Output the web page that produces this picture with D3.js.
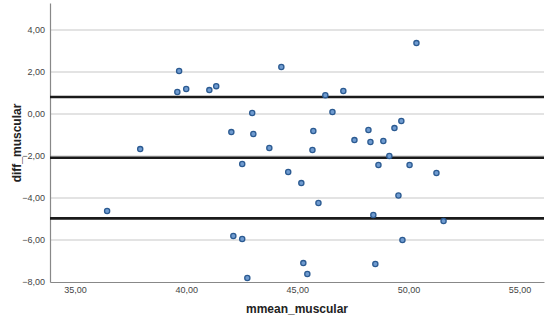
<!DOCTYPE html>
<html>
<head>
<meta charset="utf-8">
<script src="https://cdn.jsdelivr.net/npm/d3@7"></script>
<style>
  body { margin: 0; background: #fff; }
  text { font-family: Arial, "Liberation Sans", sans-serif; }
</style>
</head>
<body>
<div class="chart"></div>
<script>
// mean of both measurements vs difference
const mmeanMuscular = [36.44, 37.93, 39.68, 39.60, 40.00, 41.04, 41.35, 44.28, 46.26, 47.07,
    42.97, 46.58, 42.03, 43.02, 43.74, 45.72, 45.68, 47.57, 48.20, 48.29,
    48.87, 49.14, 49.37, 49.68, 50.36, 50.05, 51.26, 49.55, 51.58, 49.73,
    42.52, 44.59, 45.18, 45.95, 48.65, 48.42, 42.12, 42.52, 45.27, 45.45,
    42.75, 48.51];
const diffMuscular = [-4.62, -1.67, 2.05, 1.05, 1.19, 1.14, 1.33, 2.24, 0.90, 1.10,
    0.05, 0.10, -0.86, -0.95, -1.62, -0.81, -1.71, -1.24, -0.76, -1.33,
    -1.28, -2.00, -0.67, -0.33, 3.38, -2.43, -2.81, -3.88, -5.10, -6.00,
    -2.38, -2.76, -3.29, -4.24, -2.43, -4.81, -5.81, -5.95, -7.10, -7.62,
    -7.81, -7.14];
// upper limit, mean difference, lower limit
const refLines = [0.81, -2.08, -4.97];
const xTicks = [35, 40, 45, 50, 55];
const yTicks = [4, 2, 0, -2, -4, -6, -8];

const width = 550, height = 323;
const fmt = d => d3.format(".2f")(d).replace(".", ",");

const svg = d3.select(".chart").append("svg")
    .attr("width", width)
    .attr("height", height);

const x = d3.scaleLinear().domain([33.87, 56.1]).range([50, 544]);
const y = d3.scaleLinear().domain([-8, 5.29]).range([282, 3]);

// gridlines
svg.append("g").selectAll("line")
    .data(yTicks.filter(d => d > -8)).enter()
    .append("line")
    .attr("x1", x.range()[0]).attr("x2", x.range()[1])
    .attr("y1", d => y(d)).attr("y2", d => y(d))
    .attr("stroke", "#dadada")
    .attr("stroke-width", 1.5);

// axes
const yAxis = svg.append("g")
    .attr("transform", "translate(50,0)")
    .call(d3.axisLeft(y).tickValues(yTicks).tickFormat(fmt).tickSize(0).tickPadding(5));
const xAxis = svg.append("g")
    .attr("transform", "translate(0,282)")
    .call(d3.axisBottom(x).tickValues(xTicks).tickFormat(fmt).tickSize(0).tickPadding(5));

[yAxis, xAxis].forEach(g => {
    g.select(".domain").attr("stroke", "#888").attr("stroke-width", 1.2);
    g.selectAll("text")
        .attr("fill", "#444")
        .style("font-size", "9px");
});

// reference lines
svg.append("g").selectAll("line")
    .data(refLines).enter()
    .append("line")
    .attr("x1", x.range()[0]).attr("x2", x.range()[1])
    .attr("y1", d => y(d)).attr("y2", d => y(d))
    .attr("stroke", "#1a1a1a")
    .attr("stroke-width", 2.6);

// points
svg.append("g").selectAll("circle")
    .data(mmeanMuscular.map((m, i) => [m, diffMuscular[i]])).enter()
    .append("circle")
    .attr("cx", d => x(d[0]))
    .attr("cy", d => y(d[1]))
    .attr("r", 2.6)
    .attr("fill", "#6f9bd0")
    .attr("stroke", "#2b5a91")
    .attr("stroke-width", 1.3);

// axis titles
svg.append("text")
    .attr("x", 297).attr("y", 313)
    .attr("text-anchor", "middle")
    .attr("fill", "#222")
    .style("font-size", "12px")
    .style("font-weight", "bold")
    .text("mmean_muscular");

svg.append("text")
    .attr("transform", "translate(21,143) rotate(-90)")
    .attr("text-anchor", "middle")
    .attr("fill", "#222")
    .style("font-size", "12px")
    .style("font-weight", "bold")
    .text("diff_muscular");
</script>
</body>
</html>
